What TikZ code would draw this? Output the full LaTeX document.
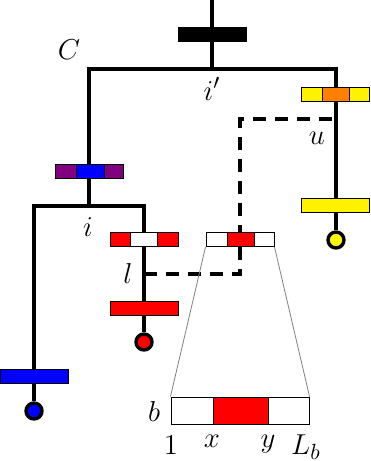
\documentclass[tikz,border=0pt]{standalone}
\usetikzlibrary{positioning}
\definecolor{treeblue}{HTML}{0000FF}
\definecolor{treered}{HTML}{FF0000}
\definecolor{treeyellow}{HTML}{FFF200}
\definecolor{treeorange}{HTML}{FF8000}
\definecolor{treepurple}{HTML}{800080}
\tikzset{
  edge/.style={line width=1.7pt, draw=black},
  link/.style={line width=1.7pt, draw=black, dash pattern=on 6.5pt off 4.5pt},
  seg/.style={draw=black, line width=0.5pt},
  bar/.style={draw=black, line width=0.5pt, minimum width=34pt, minimum height=7pt, inner sep=0pt},
  leaf/.style={circle, draw=black, line width=1.7pt, minimum size=8pt, inner sep=0pt},
  lbl/.style={font=\fontsize{15}{18}\selectfont, inner sep=0pt, anchor=base},
  zoomline/.style={draw=gray, line width=0.4pt},
}
\begin{document}
\begin{tikzpicture}[x=0.5pt,y=-0.5pt]
  \useasboundingbox (0,0) rectangle (370,461);
  % junctions of the tree
  \coordinate (top) at (212,0);
  \coordinate (ip) at (212,69);
  \coordinate (cl) at (89,69);
  \coordinate (cr) at (336,69);
  \coordinate (i) at (89,206);
  \coordinate (il) at (34,206);
  \coordinate (ir) at (144,206);
  \coordinate (l) at (144,274);
  \coordinate (u) at (336,119);
  \coordinate (bendl) at (240,274);
  \coordinate (bendu) at (240,119);
  \node[leaf, fill=treeblue] (leafb) at (34,411) {};
  \node[leaf, fill=treered] (leafr) at (144,342) {};
  \node[leaf, fill=treeyellow] (leafy) at (336,240) {};
  \draw[edge] (top) -- (ip);
  \draw[edge] (i) -- (cl) -- (cr) -- (leafy);
  \draw[edge] (leafb) -- (il) -- (ir) -- (leafr);
  \draw[link] (l) -- (bendl) -- (bendu) -- (u);
  % bars
  \node[bar, fill=black] (root) at (212.5,34.5) {};
  \node[bar, fill=white] (barc) at (89,171) {};
  \foreach \xa/\xb/\col in {55/76/treepurple,76/104/treeblue,104/123/treepurple}
    \draw[seg, fill=\col] (\xa,164) rectangle (\xb,178);
  \node[bar, fill=white] (baru) at (335,94) {};
  \foreach \xa/\xb/\col in {301/322/treeyellow,322/349/treeorange,349/369/treeyellow}
    \draw[seg, fill=\col] (\xa,87) rectangle (\xb,101);
  \node[bar, fill=treeyellow] (bary) at (335,205) {};
  \node[bar, fill=white] (barl) at (144,239.5) {};
  \foreach \xa/\xb/\col in {110/130/treered,130/157/white,157/178/treered}
    \draw[seg, fill=\col] (\xa,232.5) rectangle (\xb,246.5);
  \node[bar, fill=treered] (barr) at (144,308.5) {};
  \node[bar, fill=treeblue] (barb) at (34,376) {};
  \node[bar, fill=white] (barm) at (240,239.5) {};
  \foreach \xa/\xb/\col in {206/227/white,227/254/treered,254/274/white}
    \draw[seg, fill=\col] (\xa,232.5) rectangle (\xb,246.5);
  % zoomed bar
  \node[bar, fill=white, minimum width=69pt, minimum height=13.5pt] (big) at (240,410.5) {};
  \draw[seg, fill=treered] (213,397) rectangle (268,424);
  \draw[zoomline] (barm.south west) -- (big.north west);
  \draw[zoomline] (barm.south east) -- (big.north east);
  % labels
  \node[lbl] (labC) at (69,59) {$C$};
  \node[lbl] (labip) at (212,100) {$i'$};
  \node[lbl] (labu) at (317,144) {$u$};
  \node[lbl] (labi) at (88,236) {$i$};
  \node[lbl] (labl) at (128,283) {$l$};
  \node[lbl] (labb) at (154,421) {$b$};
  \node[lbl] (lab1) at (171,454) {$1$};
  \node[lbl] (labx) at (212,447) {$x$};
  \node[lbl] (laby) at (268,447) {$y$};
  \node[lbl] (labL) at (306,454) {$L_b$};
\end{tikzpicture}
\end{document}
